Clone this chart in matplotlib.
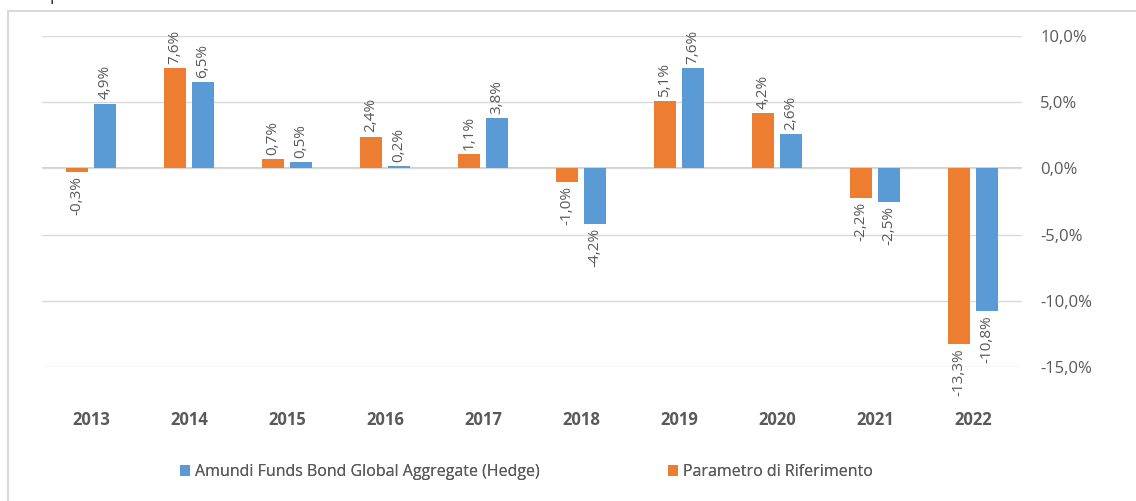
import matplotlib
matplotlib.use("Agg")
import matplotlib.pyplot as plt
import matplotlib.patches as mpatches
import numpy as np

YEARS = ["2013", "2014", "2015", "2016", "2017", "2018", "2019", "2020", "2021", "2022"]
BENCH = [-0.3, 7.6, 0.7, 2.4, 1.1, -1.0, 5.1, 4.2, -2.2, -13.3]
FUND = [4.9, 6.5, 0.5, 0.2, 3.8, -4.2, 7.6, 2.6, -2.5, -10.8]
YTICKS = [-15, -10, -5, 0, 5, 10]

FUND_NAME = "Amundi Funds Bond Global Aggregate (Hedge)"
BENCH_NAME = "Parametro di Riferimento"

ORANGE = "#ED7D31"
BLUE = "#5B9BD5"
TXT = "#595959"
GRID = "#d9d9d9"

plt.rcParams["font.family"] = ["Open Sans", "DejaVu Sans"]


def pct(v):
    return f"{v:.1f}%".replace(".", ",")


fig = plt.figure(figsize=(11.36, 5.01), dpi=100)
fig.patch.set_facecolor("white")

# bordo del riquadro (tagliato a destra e in basso)
fig.patches.append(mpatches.Rectangle((8 / 1136, -0.2), 1.2, 1.2 - 11 / 501,
                                      transform=fig.transFigure, fill=False,
                                      edgecolor=GRID, linewidth=1.5))
# titolo tagliato in alto, come nell'originale
fig.text(5 / 1136, 1 - 0.5 / 501, "con il parametro di riferimento", fontsize=12,
         color="#222222", ha="left", va="baseline")

ax = fig.add_axes([42 / 1136, 1 - 367 / 501, 980 / 1136, 331 / 501])
x = np.arange(len(YEARS))
w = 0.225
off = 0.143
ax.bar(x - off, BENCH, w, color=ORANGE, label=BENCH_NAME, zorder=3)
ax.bar(x + off, FUND, w, color=BLUE, label=FUND_NAME, zorder=3)

for xs, vals in ((x - off, BENCH), (x + off, FUND)):
    for xi, v in zip(xs, vals):
        if v >= 0:
            ax.annotate(pct(v), (xi, v), xytext=(0, 3), textcoords="offset points",
                        rotation=90, ha="center", va="bottom", fontsize=11,
                        color=TXT, annotation_clip=False)
        else:
            ax.annotate(pct(v), (xi, v), xytext=(0, -3), textcoords="offset points",
                        rotation=90, ha="center", va="top", fontsize=11,
                        color=TXT, annotation_clip=False)

ax.set_xlim(-0.5, len(YEARS) - 0.5)
ax.set_ylim(-15, 10)
ax.set_yticks(YTICKS)
ax.set_yticklabels([pct(v) for v in YTICKS])
ax.yaxis.tick_right()
ax.tick_params(axis="y", length=0, pad=13, labelsize=12, labelcolor=TXT)
ax.set_xticks(x)
ax.set_xticklabels(YEARS, fontweight="bold")
ax.tick_params(axis="x", length=0, pad=31.5, labelsize=12, labelcolor=TXT)
ax.grid(axis="y", color=GRID, linewidth=1, zorder=0)
ax.axhline(0, color="#c8c8c8", linewidth=1.2, zorder=1)
for s in ax.spines.values():
    s.set_visible(False)

handles, labels = ax.get_legend_handles_labels()
leg_y = 1 - 472 / 501
for h, lab, lx in ((handles[1], labels[1], 180), (handles[0], labels[0], 668)):
    lg = fig.legend([h], [lab], loc="center left", bbox_to_anchor=(lx / 1136, leg_y),
                    frameon=False, fontsize=11.5, labelcolor=TXT, handlelength=0.65,
                    handleheight=0.65, handletextpad=0.3, borderpad=0, borderaxespad=0)
    fig.add_artist(lg)

fig.savefig("out.png", dpi=100, facecolor="white")
